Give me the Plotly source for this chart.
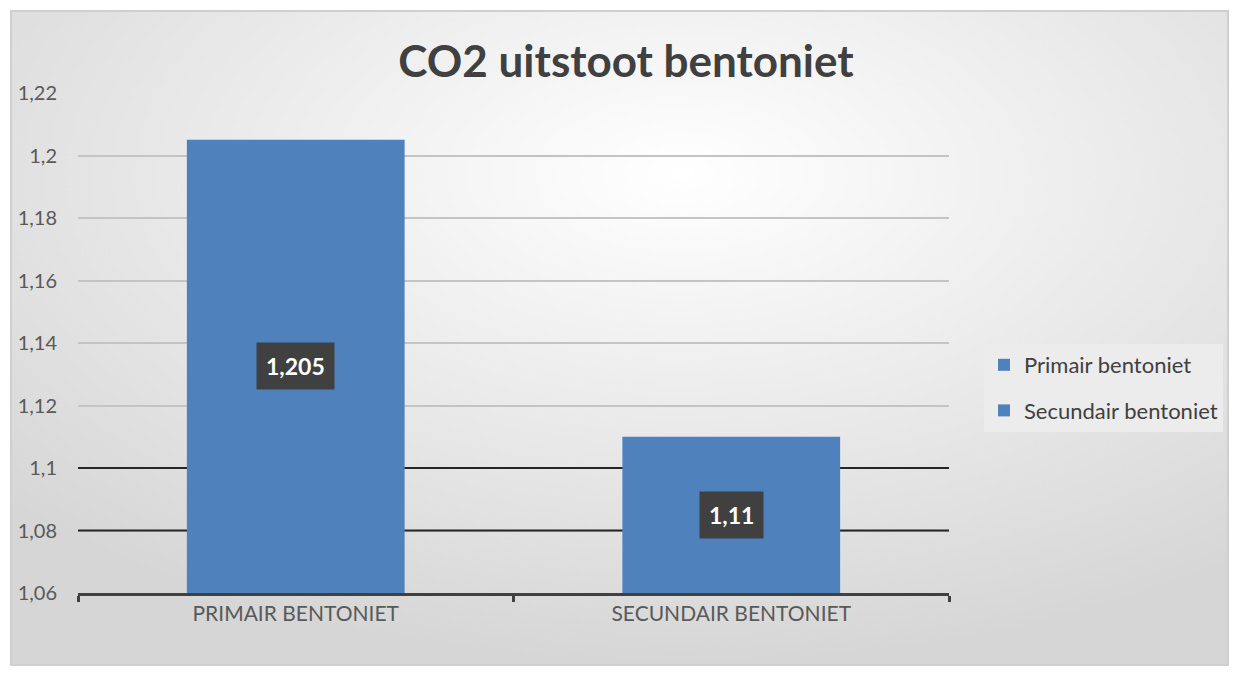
import plotly.graph_objects as go
import urllib.parse

categories = ["PRIMAIR BENTONIET", "SECUNDAIR BENTONIET"]
series_names = ["Primair bentoniet", "Secundair bentoniet"]
values = [1.205, 1.11]
y_min, y_max, y_step = 1.06, 1.22, 0.02
dark_grid_values = [1.08, 1.1]

BLUE = "#4f81bd"
FONT = "Lato"

fig = go.Figure()
for cat, name, v in zip(categories, series_names, values):
    fig.add_trace(go.Bar(
        x=[cat], y=[v - y_min], base=y_min, name=name, legendgroup=name,
        marker=dict(color=BLUE, line=dict(width=0)),
        width=0.5, hoverinfo="skip",
    ))

for cat, v in zip(categories, values):
    fig.add_annotation(
        x=cat, y=(v + y_min) / 2, xref="x", yref="y",
        text="<b>" + f"{v:g}".replace(".", ",") + "</b>",
        showarrow=False, bgcolor="#404040",
        font=dict(family=FONT, size=23, color="white"),
        borderpad=9,
    )

for gv in dark_grid_values:
    fig.add_shape(type="line", xref="x", yref="y", x0=-0.5, x1=1.5, y0=gv, y1=gv,
                  line=dict(color="#262626", width=2), layer="between")

W, H = 1239, 675
L, R, T, B = 78, 949, 93, 593
pw, ph = R - L, B - T

svg = (
    "<svg xmlns='http://www.w3.org/2000/svg' width='1219' height='656'>"
    "<defs><radialGradient id='g' cx='55%' cy='25%' r='75%'>"
    "<stop offset='0%' stop-color='#ffffff'/>"
    "<stop offset='100%' stop-color='#d6d6d6'/>"
    "</radialGradient></defs>"
    "<rect x='1' y='1' width='1217' height='654' fill='url(#g)' stroke='#cfcfcf' stroke-width='2'/>"
    "</svg>"
)
src = "data:image/svg+xml;charset=utf-8," + urllib.parse.quote(svg)

fig.add_layout_image(
    source=src, xref="paper", yref="paper",
    x=(10 - L) / pw, y=(B - 10) / ph,
    sizex=1219 / pw, sizey=656 / ph,
    xanchor="left", yanchor="top", sizing="stretch", layer="below",
)

n_ticks = int(round((y_max - y_min) / y_step)) + 1
tickvals = [round(y_min + i * y_step, 2) for i in range(n_ticks)]

fig.update_layout(
    width=W, height=H,
    margin=dict(l=L, r=W - R, t=T, b=H - B),
    paper_bgcolor="white", plot_bgcolor="rgba(0,0,0,0)",
    separators=",.",
    barmode="overlay",
    title=dict(text="<b>CO2 uitstoot bentoniet</b>", x=626 / W, xref="container",
               y=1 - 62 / H, yref="container", xanchor="center", yanchor="middle",
               font=dict(family=FONT, size=44, color="#404040")),
    font=dict(family=FONT, color="#595959"),
    showlegend=True,
    legend=dict(x=(984 - L) / pw, y=(B - 388) / ph, xanchor="left", yanchor="middle",
                bgcolor="#ececec", font=dict(family=FONT, size=22, color="#404040"),
                itemsizing="constant", tracegroupgap=14, itemwidth=30),
    xaxis=dict(showgrid=False, showline=True, linecolor="#404040", linewidth=3,
               ticks="outside", tickson="boundaries", ticklen=6, tickwidth=3,
               tickcolor="#404040",
               tickfont=dict(family=FONT, size=21, color="#595959"),
               range=[-0.5, 1.5], fixedrange=True),
    yaxis=dict(range=[y_min, y_max], tickvals=tickvals,
               showgrid=True, gridcolor="#c4c4c4", gridwidth=2,
               zeroline=False, showline=False, ticks="", ticklabelstandoff=20,
               tickfont=dict(family=FONT, size=20, color="#595959")),
)

fig.write_html(
    "out.html",
    config={"displayModeBar": False},
    post_script="document.body.style.margin='0';document.body.style.overflow='hidden';",
)
